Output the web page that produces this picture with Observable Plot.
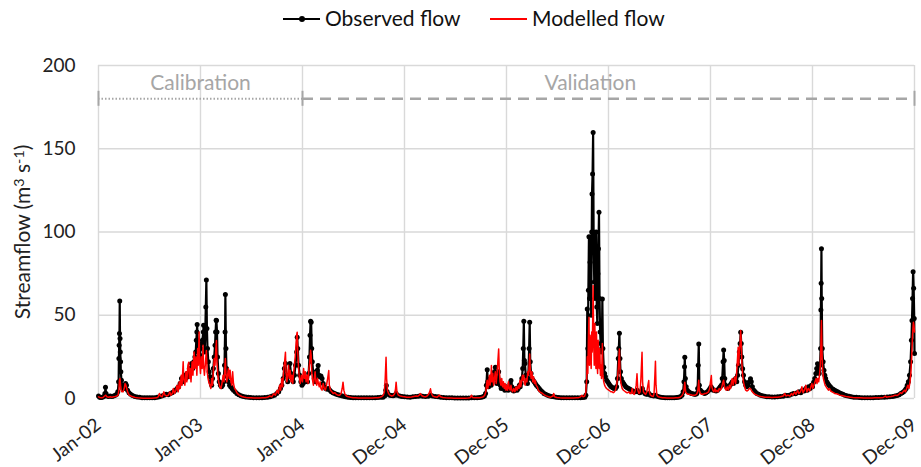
<!DOCTYPE html>
<html><head><meta charset="utf-8">
<script src="https://cdn.jsdelivr.net/npm/d3@7"></script>
<script src="https://cdn.jsdelivr.net/npm/@observablehq/plot@0.6"></script>
<style>
body{margin:0;background:#fff;font-family:Lato,"Open Sans",sans-serif;}
#legend{position:relative;height:38px;width:921px;font-size:21px;color:#111;}
.lg-line{position:absolute;height:2px;top:18px;}
.lg-dot{position:absolute;width:6px;height:6px;border-radius:3px;background:#000;top:16px;}
.lg-text{position:absolute;top:5px;line-height:26px;white-space:nowrap;}
</style></head><body>
<div id="legend"></div>
<div id="chart"></div>
<script>
// days counted from 1 Jan 2002
const tickDays = [0, 365, 730, 1095, 1460, 1825, 2190, 2555, 2920];
const tickLabels = ["Jan-02","Jan-03","Jan-04","Dec-04","Dec-05","Dec-06","Dec-07","Dec-08","Dec-09"];
const yTicks = [0, 50, 100, 150, 200];
const seriesNames = ["Observed flow", "Modelled flow"];
const seriesColors = ["#000000", "#ff0000"];
const periodNames = ["Calibration", "Validation"];
const periodStartDay = [0, 730];
const periodEndDay = [730, 2920];
const periodLabelDay = [365, 1760];
const periodLevel = 180;
const periodLabelLevel = 189.5;
const yLabelParts = [["Streamflow (m", false], ["3", true], [" s", false], ["-1", true], [")", false]];
const yLabel = yLabelParts.map(p => p[0]).join("");

const observed = [
[0,1.5],[4,0.8],[9,0.6],[14,0.8],[19,1.2],[23,3],[25,6.8],[27,3],[31,1.5],[36,1.2],[42,1.5],[48,1.2],[54,1.5],[60,2],[65,2.5],[69,4],[72,10],[73,24],[74,32],[75,39],[76,58.5],[77,36],[78,28],[79,22],[80,16],[82,11],[84,8],[87,6],[91,6],[94,8],[97,9],[100,8],[104,5],[109,3.5],[115,2.5],[122,1.8],[130,1.2],[138,0.9],[147,0.7],[156,0.5],[165,0.4],[174,0.4],[183,0.4],[192,0.5],[201,0.5],[210,0.7],[218,1],[226,1.5],[234,2],[242,2.5],[250,2.2],[257,3],[263,3.5],[269,4],[275,5],[281,6],[287,7],[292,9],[297,12],[302,10],[307,14],[312,12],[317,15],[321,13],[325,18],[329,16],[333,21],[337,18],[341,22],[345,25],[348,28],[350,35],[352,40],[353,44.4],[355,35],[357,28],[360,24],[363,26],[366,30],[369,33],[372,35],[375,40],[376,44],[378,36],[380,28],[382,40],[384,55],[386,71.2],[388,42],[390,30],[393,22],[396,16],[399,13],[402,10],[405,8],[408,12],[411,18],[414,25],[417,32],[419,40],[421,47],[422,46.8],[424,40],[426,25],[429,15],[432,10],[436,8],[440,7],[444,8],[448,10],[451,20],[453,40],[454,62.4],[456,30],[458,18],[461,13],[465,10],[469,8],[473,7],[478,6],[483,5],[489,4],[495,3],[502,2.2],[510,1.6],[518,1.2],[527,0.9],[536,0.7],[545,0.6],[555,0.5],[565,0.5],[575,0.5],[585,0.5],[595,0.6],[605,0.8],[614,1],[622,1.5],[630,2],[638,3],[645,4],[651,6],[656,8],[661,12],[665,18],[669,21],[673,14],[677,10],[681,14],[685,21],[689,15],[693,12],[697,10],[701,14],[705,20],[709,28],[711,36.8],[713,30],[716,20],[720,14],[724,10],[728,8],[732,9],[736,11],[740,10],[744,12],[748,10],[752,15],[755,25],[757,38],[759,46.4],[761,45.8],[763,30],[765,22],[768,16],[772,12],[776,10],[780,14],[783,17],[786,19.8],[789,14],[792,13],[796,13.5],[800,12],[804,9],[808,7],[813,6],[818,5.5],[823,6],[828,5],[833,4],[839,3.5],[845,3],[851,2.6],[857,2.2],[863,2],[870,1.6],[877,1.3],[884,1],[893,0.8],[902,0.6],[911,0.5],[920,0.4],[930,0.4],[940,0.4],[950,0.4],[960,0.4],[970,0.4],[980,0.5],[990,0.5],[1000,0.6],[1010,0.7],[1018,0.8],[1024,1.5],[1028,5],[1030,7.8],[1033,4],[1037,2.5],[1042,2],[1048,1.8],[1054,1.6],[1060,2],[1065,3],[1070,2],[1078,1.5],[1086,1.2],[1095,1],
[1105,0.9],[1115,0.8],[1125,1],[1135,1.2],[1145,1.4],[1152,1.6],[1160,1.4],[1170,1.2],[1180,1.3],[1188,2],[1195,1.5],[1205,1.2],[1215,1],[1225,0.8],[1235,0.6],[1245,0.5],[1255,0.4],[1265,0.4],[1275,0.3],[1285,0.3],[1295,0.3],[1305,0.3],[1315,0.3],[1325,0.3],[1335,0.4],[1345,0.4],[1355,0.5],[1363,0.6],[1370,0.8],[1376,1],[1381,1.5],[1385,3],[1388,8],[1391,17.2],[1393,10],[1396,7],[1399,9],[1402,12],[1405,8],[1408,10],[1411,14],[1414,12],[1417,16],[1420,18.8],[1423,12],[1426,9],[1429,12],[1432,16],[1435,10],[1438,8],[1441,6],[1444,7],[1447,8],[1450,6],[1454,5],[1458,7],[1462,6],[1466,5],[1470,7],[1473,9],[1476,10.8],[1479,7],[1482,5],[1486,4.5],[1490,5],[1494,6],[1498,5],[1502,6],[1506,8],[1509,7],[1512,9],[1515,12],[1518,18],[1520,30],[1522,46.4],[1524,22.8],[1526,21],[1529,14],[1532,10],[1535,9],[1538,12],[1541,30],[1543,45.8],[1545,22],[1548,15],[1551,12],[1555,11],[1559,10],[1563,9],[1567,8],[1572,7],[1577,6],[1582,5],[1588,4],[1594,3],[1600,2.5],[1607,2],[1614,1.5],[1622,1.2],[1630,1],[1638,0.8],[1647,0.6],[1656,0.5],[1665,0.4],[1675,0.4],[1685,0.4],[1695,0.4],[1705,0.4],[1715,0.4],[1725,0.5],[1733,0.6],[1740,0.8],[1744,2],[1747,10],
[1749,53.8],[1751,30],[1753,65],[1755,97.2],[1757,60],[1759,81.8],[1761,97],[1763,50],[1765,100],[1766,122.8],[1768,134.8],[1770,159.8],[1772,90],[1774,70],[1775,99.8],[1777,60],[1779,85],[1781,100],[1783,55],[1785,45],[1787,75],[1789,90],[1791,111.8],[1793,60],[1795,40],[1797,33],[1799,28],[1801,30],[1803,59.8],[1805,30],[1808,18.8],[1811,15],[1814,13],[1818,11],[1822,10],[1826,9],[1830,8],[1835,7],[1840,6.5],[1845,6],[1850,6],[1854,7],[1857,12],[1860,24],[1862,30],[1864,39.2],[1866,24],[1868,16],[1871,12],[1875,10],[1879,9],[1883,8],[1887,7],[1892,6.5],[1897,6],[1902,5.5],[1907,5],[1912,4.5],[1917,4],[1922,4],[1927,5],[1932,4],[1937,3.5],[1942,4],[1946,6],[1950,4],[1955,3],[1960,2.5],[1966,2.5],[1970,3],[1975,2],[1981,1.8],[1987,1.5],[1993,2],[1999,1.4],[2005,1],[2012,0.8],[2020,0.6],[2028,0.5],[2036,0.5],[2044,0.5],[2052,0.5],[2060,0.5],[2068,0.6],[2075,0.7],[2082,1],[2088,2],[2092,4],[2095,10],[2097,19],[2098,24.8],[2100,12],[2103,7],[2107,5],[2112,4],[2117,3.5],[2122,3],[2127,2.8],[2132,2.6],[2137,2.5],[2141,3],[2144,6],[2146,20],[2148,32.8],[2150,8],[2154,5],[2159,4],[2164,3.5],[2169,3],[2174,3.5],[2179,4],[2184,5],[2188,6],[2192,7],[2196,6],[2200,5],[2205,5],[2210,4.5],[2215,5],[2220,6],[2225,7],[2229,8],[2232,12],[2235,22],[2237,29.2],[2239,22.8],[2241,12],[2244,8],[2248,7],[2252,6],[2256,7],[2260,8],[2264,9],[2268,10],[2272,9],[2276,11],[2280,12],[2284,10],[2287,14],[2290,20],[2293,28],[2296,33],[2298,39.8],[2300,33],[2302,25],[2305,17.8],[2308,14],[2312,10],[2316,8],[2320,7],[2325,8],[2329,10],[2333,11.8],[2336,10],[2340,7],[2345,5],[2350,4],[2356,3],[2362,2.5],[2369,2],[2376,1.6],[2384,1.3],[2392,1.1],[2400,1],[2410,0.9],[2420,0.9],[2430,1],[2440,1.2],[2450,1.4],[2458,2],[2465,1.8],[2472,2],[2480,2.5],[2487,3],[2494,2.8],[2500,3.5],[2507,4],[2513,3.5],[2519,5],[2525,4.5],[2531,6],[2536,5],[2541,7],[2546,6],[2551,8],[2555,7],[2559,9.8],[2563,12],[2567,15],[2570,18],[2573,20.8],[2576,16],[2579,15],[2582,20],[2584,30],[2585,53.2],[2586,69.2],[2587,90],[2588,60],[2590,30],[2593,22],[2596,17],[2599,14],[2602,12],[2606,10],[2610,9],[2614,8],[2619,7],[2624,6],[2629,5.5],[2634,5],[2639,4.5],[2645,4],[2651,3.5],[2657,3],[2664,2.5],[2671,2],[2678,1.6],[2686,1.3],[2694,1],[2703,0.8],[2712,0.7],[2722,0.6],[2732,0.5],[2742,0.5],[2752,0.5],[2762,0.5],[2772,0.5],[2782,0.6],[2792,0.6],[2802,0.7],[2812,0.8],[2822,0.9],[2832,1],[2842,1.2],[2850,1.5],[2858,1.8],[2865,2.2],[2871,3],[2876,3.5],[2881,4],[2886,5],[2890,6],[2894,8],[2898,10],[2902,14],[2906,22],[2909,35],[2911,46.8],[2913,60],[2915,76.2],[2917,66.2],[2919,48],[2920,27]
];

const modelled = [
[0,1],[5,0.6],[10,0.5],[16,0.6],[22,1.5],[26,2],[30,1],[36,0.8],[42,1],[48,0.8],[54,1],[60,1.2],[66,1.5],[70,2],[73,5],[75,11],[77,12],[79,8],[81,5],[84,4],[88,4],[92,6],[95,9],[98,8],[101,6],[105,3.5],[110,2],[116,1.5],[123,1],[131,0.6],[140,0.4],[150,0.3],[160,0.2],[170,0.2],[180,0.2],[190,0.2],[200,0.3],[208,0.4],[214,1],[218,3],[222,1.5],[228,1],[234,4],[238,2],[244,1.5],[250,2],[255,4],[259,2],[264,3],[268,6],[272,3],[277,5],[281,8],[285,4],[289,10],[292,6],[296,14],[299,8],[303,22],[305,12],[309,8],[313,16],[316,10],[320,20],[323,21.8],[325,12],[328,18],[331,10],[335,22],[338,14],[342,28],[345,18],[349,25],[352,14],[355,30],[357,20],[360,40],[362,22],[365,15],[368,25],[371,18],[374,32],[376,20],[379,14],[382,20],[386,28.8],[389,16],[392,12],[396,9],[399,8],[402,6],[405,12],[408,8],[411,16],[414,24],[417,20],[420,30],[422,34.8],[424,22],[427,14],[430,10],[434,7],[438,6],[442,9],[446,14],[449,10],[452,18],[454,24],[456,15],[459,10],[462,14],[465,18],[468,12],[471,17],[474,10],[477,8],[480,16],[483,9],[487,6],[491,5],[495,3.5],[500,2.5],[506,1.8],[513,1.2],[520,0.9],[528,0.6],[537,0.5],[546,0.4],[556,0.3],[566,0.3],[576,0.3],[586,0.4],[596,0.5],[605,0.7],[613,1.5],[620,1],[627,3],[633,2],[639,5],[644,3],[648,8],[652,5],[656,12],[659,7],[663,18],[666,22],[669,27.8],[671,16],[674,10],[677,14],[680,20],[683,12],[686,17],[689,10],[692,14],[695,9],[698,15],[701,20],[704,25],[707,33],[709,38],[711,39.8],[713,28],[716,18],[719,12],[722,9],[726,14],[730,10],[734,18],[737,12],[740,16],[743,10],[747,14],[750,9],[753,18],[756,22],[759,29],[761,26],[763,16],[766,11],[769,8],[772,12],[775,16],[778,10],[781,8],[784,12],[787,9],[790,7],[793,10],[796,6],[800,5],[804,9],[808,6],[812,5],[816,8],[820,12],[824,16.8],[826,8],[830,5],[835,4],[840,3],[846,3.5],[851,2.5],[857,2],[863,2],[868,3],[872,6],[875,9.8],[878,5],[882,2.5],[887,1.5],[894,1],[902,0.7],[911,0.5],[920,0.4],[930,0.3],[940,0.3],[950,0.3],[960,0.3],[970,0.3],[980,0.3],[990,0.4],[1000,0.5],[1008,0.8],[1014,1.2],[1019,2],[1023,4],[1026,12],[1029,24.8],[1031,12],[1034,5],[1038,3],[1043,2],[1049,1.5],[1055,1.8],[1060,3],[1063,6],[1065,9.8],[1068,4],[1073,2],[1080,1.5],[1088,1.2],[1095,1],
[1103,0.8],[1112,0.7],[1120,0.9],[1128,1.2],[1136,1.5],[1142,1.3],[1148,2],[1152,3],[1156,1.8],[1163,1.2],[1170,1],[1176,1.5],[1181,2.5],[1185,4],[1188,5.8],[1191,3],[1196,1.5],[1203,1],[1212,0.8],[1220,2],[1224,1],[1232,0.6],[1242,0.4],[1252,0.3],[1262,0.3],[1272,0.2],[1282,0.2],[1292,0.2],[1302,0.2],[1312,0.2],[1322,0.3],[1330,0.5],[1335,2],[1338,0.6],[1346,0.4],[1356,0.4],[1364,0.5],[1371,0.7],[1377,1],[1382,2],[1386,4],[1389,9],[1391,11],[1393,6],[1396,9],[1399,14],[1401,8],[1404,12],[1406,19.8],[1408,10],[1411,15],[1414,8],[1417,12],[1420,16],[1423,9],[1426,14],[1429,22],[1432,29.8],[1434,18],[1437,10],[1440,8],[1443,12],[1446,7],[1449,10],[1452,6],[1455,9],[1458,5],[1461,8],[1464,5],[1467,10],[1470,6],[1473,5],[1476,8],[1479,5],[1482,4],[1486,6],[1490,4],[1494,7],[1498,5],[1502,8],[1505,6],[1508,11],[1511,7],[1514,10],[1517,14],[1520,11],[1522,14],[1524,9],[1527,8],[1530,12],[1533,10],[1536,16],[1539,14],[1541,20],[1543,26.8],[1545,18],[1548,12],[1551,16],[1554,10],[1557,13],[1560,9],[1563,11],[1566,8],[1570,7],[1574,5],[1579,4],[1584,3.5],[1589,3],[1595,2.2],[1602,1.6],[1610,1.1],[1618,0.8],[1626,1.5],[1629,3],[1632,1],[1640,0.6],[1650,0.4],[1660,0.3],[1670,0.3],[1680,0.3],[1690,0.3],[1700,0.3],[1710,0.4],[1718,0.5],[1725,1],[1730,2],[1734,1],[1740,1.5],[1744,4],[1747,12],
[1749,25],[1751,15],[1753,35],[1755,48.8],[1757,20],[1759,38],[1761,30],[1763,18],[1765,40],[1767,28],[1769,55],[1770,67.8],[1772,35],[1774,20],[1776,45],[1778,30],[1780,18],[1782,40],[1784,22],[1786,15],[1788,35],[1790,25],[1792,18],[1794,30],[1796,14],[1798,20],[1800,12],[1802,25],[1803,33],[1805,14],[1808,10],[1811,8],[1814,7],[1818,6],[1822,5.5],[1826,5],[1830,4.5],[1834,4],[1838,4],[1842,3.5],[1846,4],[1850,5],[1854,8],[1857,12],[1860,18],[1862,24],[1864,29.8],[1866,18],[1868,11],[1871,8],[1874,6],[1878,5],[1882,4.5],[1886,4],[1890,3.5],[1894,3.5],[1898,4],[1902,3],[1906,3],[1910,6],[1913,3],[1917,2.5],[1921,5],[1924,8],[1927,14.8],[1930,5],[1934,3],[1938,4],[1941,12],[1943,20],[1945,27.8],[1947,10],[1950,4],[1954,3],[1958,2.5],[1962,4],[1966,8],[1969,10.8],[1971,4],[1975,2],[1980,1.5],[1985,1.2],[1988,3],[1991,14],[1993,22.4],[1995,8],[1998,2],[2003,1],[2010,0.7],[2018,0.5],[2026,0.4],[2034,0.3],[2042,0.3],[2050,0.3],[2058,0.3],[2066,0.4],[2074,0.5],[2081,0.8],[2087,1.5],[2092,3],[2095,5],[2098,9.8],[2101,4],[2105,3],[2110,2.5],[2115,2.5],[2120,2.2],[2125,2],[2130,2],[2135,2],[2140,2.5],[2144,4],[2146,7],[2148,11],[2150,5],[2154,3],[2159,2.5],[2164,2.5],[2169,3],[2174,3],[2179,3.5],[2183,4],[2187,6],[2190,10],[2193,13.8],[2195,7],[2198,5],[2202,4],[2206,6],[2209,4],[2213,5],[2217,4],[2221,6],[2225,5],[2229,6],[2232,8],[2235,10],[2237,11],[2239,8],[2242,6],[2246,5],[2250,7],[2254,5],[2258,8],[2262,6],[2265,10],[2268,12],[2271,8],[2274,11],[2277,13],[2280,9],[2283,14],[2286,22],[2289,30.8],[2291,20],[2293,28],[2296,32.8],[2298,40.8],[2300,34],[2302,22],[2305,14],[2308,10],[2312,7],[2316,5],[2320,4.5],[2325,5],[2329,6],[2333,6],[2336,5],[2340,4],[2345,3],[2350,2.5],[2356,2],[2362,1.6],[2369,1.2],[2376,1],[2384,0.8],[2392,0.7],[2400,0.7],[2410,0.6],[2420,0.7],[2430,0.8],[2440,1],[2450,1.5],[2456,3],[2460,1.5],[2467,2],[2474,1.5],[2480,3],[2485,2],[2491,4],[2496,2.5],[2502,5],[2506,3],[2512,4],[2517,7],[2521,3.5],[2526,5],[2531,8],[2535,4],[2540,6],[2545,4.5],[2549,7],[2553,9],[2556,6],[2560,8],[2564,10],[2568,12],[2571,9],[2574,12],[2577,10],[2580,14],[2583,20],[2585,32],[2587,46.8],[2589,28],[2591,18],[2594,12],[2597,10],[2600,8],[2604,7],[2608,6],[2612,5],[2616,6],[2620,4.5],[2625,4],[2630,3.5],[2635,3],[2641,2.8],[2647,2.5],[2653,2],[2660,1.8],[2667,1.5],[2674,1.2],[2682,1],[2690,0.8],[2699,0.6],[2708,0.5],[2718,0.4],[2728,0.4],[2738,0.3],[2748,0.3],[2758,0.3],[2768,0.3],[2778,0.4],[2788,0.4],[2798,0.5],[2808,0.6],[2816,1.5],[2820,0.8],[2828,1],[2836,1.2],[2844,1.5],[2851,2],[2858,1.8],[2864,2.5],[2869,3.5],[2874,3],[2879,4],[2884,5],[2888,4],[2892,6],[2896,8],[2900,6],[2904,10],[2907,15],[2910,25],[2913,38],[2916,45.8],[2918,44],[2920,40]
];

const DAY = 864e5;
const origin = Date.UTC(2002, 0, 1);
const toDate = d => new Date(origin + d * DAY);

const obsData = observed.map(([d, v]) => ({date: toDate(d), flow: v}));
const modData = modelled.map(([d, v]) => ({date: toDate(d), flow: v}));
const tickDates = tickDays.map(toDate);
const labelByTime = new Map(tickDates.map((d, i) => [+d, tickLabels[i]]));
const periods = periodNames.map((n, i) => ({
  name: n, start: toDate(periodStartDay[i]), end: toDate(periodEndDay[i]), mid: toDate(periodLabelDay[i])
}));
const periodEdges = [...new Set([...periodStartDay, ...periodEndDay])].map(toDate);

const grey = "#a6a6a6";
const gridColor = "#d9d9d9";

const chart = Plot.plot({
  width: 921, height: 429,
  marginLeft: 98, marginRight: 7, marginTop: 27, marginBottom: 69,
  style: {fontFamily: "Lato, 'Open Sans', sans-serif", background: "#fff", color: "#222", overflow: "visible"},
  x: {type: "utc", domain: [tickDates[0], tickDates[tickDates.length - 1]]},
  y: {domain: [0, 200]},
  marks: [
    Plot.gridY(yTicks, {stroke: gridColor, strokeOpacity: 1, strokeWidth: 1.4}),
    Plot.gridX(tickDates, {stroke: gridColor, strokeOpacity: 1, strokeWidth: 1.4}),
    Plot.axisY(yTicks, {tickSize: 0, tickPadding: 23, fontSize: 19, label: null, fill: "#222"}),
    Plot.axisX(tickDates, {tickSize: 0, tickPadding: 24, tickRotate: -38, fontSize: 19, label: null, fill: "#222",
      tickFormat: d => labelByTime.get(+d)}),
    Plot.text([yLabel], {frameAnchor: "left", dx: -75, rotate: -90, textAnchor: "middle", fontSize: 21, fill: "#222"}),
    Plot.ruleY(periods.filter((p, i) => i === 0), {x1: "start", x2: "end", y: () => periodLevel, stroke: grey, strokeWidth: 2, strokeDasharray: "1.5,2"}),
    Plot.ruleY(periods.filter((p, i) => i === 1), {x1: "start", x2: "end", y: () => periodLevel, stroke: grey, strokeWidth: 2.5, strokeDasharray: "11,7"}),
    Plot.ruleX(periodEdges, {y1: periodLevel - 4.5, y2: periodLevel + 4.5, stroke: grey, strokeWidth: 2}),
    Plot.text(periods, {x: "mid", y: () => periodLabelLevel, text: "name", fill: grey, fontSize: 21}),
    Plot.line(obsData, {x: "date", y: "flow", stroke: seriesColors[0], strokeWidth: 2.2}),
    Plot.dot(obsData, {x: "date", y: "flow", r: 2.5, fill: seriesColors[0], stroke: "none"}),
    Plot.line(modData, {x: "date", y: "flow", stroke: seriesColors[1], strokeWidth: 1.5})
  ]
});
document.getElementById("chart").appendChild(chart);

// y label with real superscripts
for (const t of chart.querySelectorAll("text")) {
  if (t.textContent === yLabel) {
    t.textContent = "";
    let shifted = false;
    for (const [s, sup] of yLabelParts) {
      const ts = document.createElementNS("http://www.w3.org/2000/svg", "tspan");
      ts.textContent = s;
      if (sup && !shifted) { ts.setAttribute("dy", "-0.45em"); ts.setAttribute("font-size", "0.68em"); shifted = true; }
      else if (sup) { ts.setAttribute("dy", "-0.66em"); ts.setAttribute("font-size", "0.68em"); shifted = true; }
      else if (shifted) { ts.setAttribute("dy", "0.306em"); shifted = false; }
      t.appendChild(ts);
    }
  }
}

// legend
const legend = document.getElementById("legend");
const legendX = [283, 490];
seriesNames.forEach((name, i) => {
  const line = document.createElement("div");
  line.className = "lg-line";
  line.style.left = legendX[i] + "px";
  line.style.width = "37px";
  line.style.background = seriesColors[i];
  legend.appendChild(line);
  if (i === 0) {
    const dot = document.createElement("div");
    dot.className = "lg-dot";
    dot.style.left = (legendX[i] + 16) + "px";
    legend.appendChild(dot);
  }
  const t = document.createElement("div");
  t.className = "lg-text";
  t.style.left = (legendX[i] + 42) + "px";
  t.textContent = name;
  legend.appendChild(t);
});
</script>
</body></html>
